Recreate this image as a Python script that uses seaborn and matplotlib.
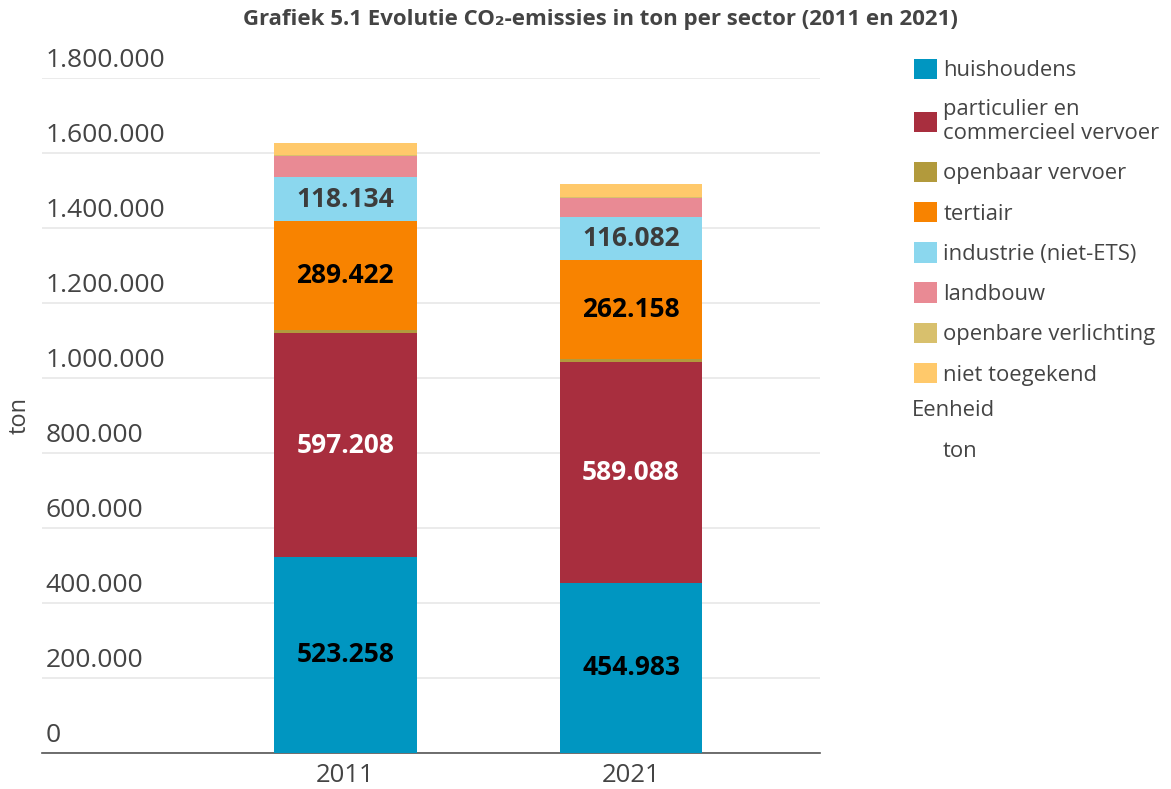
import numpy as np
import pandas as pd
import seaborn as sns
import matplotlib.pyplot as plt
from matplotlib.patches import Patch

# Data (ton CO2 per sector)
jaren = ["2011", "2021"]
sectoren = ["huishoudens", "particulier en\ncommercieel vervoer", "openbaar vervoer",
            "tertiair", "industrie (niet-ETS)", "landbouw", "openbare verlichting",
            "niet toegekend"]
huishoudens = [523258, 454983]
particulier = [597208, 589088]
openbaar_vervoer = [9000, 8000]
tertiair = [289422, 262158]
industrie = [118134, 116082]
landbouw = [56000, 51700]
openbare_verlichting = [3200, 2600]
niet_toegekend = [31000, 32800]
kleuren = ["#0096c1", "#a82e3e", "#b29a3c", "#f88300", "#8bd7ee", "#e98a94",
           "#d8c06d", "#ffc96b"]
label_kleuren = ["black", "white", None, "black", "#3c3c3c", None, None, None]
yticks = [0, 200000, 400000, 600000, 800000, 1000000, 1200000, 1400000, 1600000, 1800000]

reeksen = [huishoudens, particulier, openbaar_vervoer, tertiair, industrie,
           landbouw, openbare_verlichting, niet_toegekend]

sns.set_theme(style="white")
plt.rcParams['font.family'] = ['Open Sans', 'DejaVu Sans']

fig = plt.figure(figsize=(11.71, 7.89), dpi=100)
ax = fig.add_axes([0.036, 0.0456, 0.664, 0.855])

# cumulatieve toppen, grootste eerst tekenen zodat lagere lagen erover komen
waarden = np.array(reeksen, dtype=float)
toppen = np.cumsum(waarden, axis=0)
for i in range(len(sectoren) - 1, -1, -1):
    df = pd.DataFrame({"jaar": jaren, "top": toppen[i]})
    sns.barplot(data=df, x="jaar", y="top", color=kleuren[i], width=0.5,
                saturation=1, ax=ax, zorder=3, linewidth=0)

# labels in de grote segmenten
for i, kleur in enumerate(label_kleuren):
    if kleur is None:
        continue
    for j in range(len(jaren)):
        onder = toppen[i][j] - waarden[i][j]
        midden = onder + waarden[i][j] / 2
        tekst = f"{int(waarden[i][j]):,}".replace(",", ".")
        ax.text(j, midden, tekst, ha="center", va="center", fontsize=19,
                fontweight="bold", color=kleur, zorder=5)

ax.set_xlim(-1.06, 1.66)
ax.set_ylim(0, 1800000)
ax.set_yticks(yticks)
ax.set_yticklabels([])
ax.tick_params(axis="y", length=0)
ax.tick_params(axis="x", length=0, labelsize=18.5, labelcolor="#444444", pad=7)
ax.grid(axis="y", color="#e8e8e8", linewidth=1.2, zorder=0)
for v in yticks:
    ax.text(0.004, v + 14000, f"{v:,}".replace(",", "."),
            transform=ax.get_yaxis_transform(), ha="left", va="bottom",
            fontsize=19, color="#444444", clip_on=False)

for s in ["top", "right", "left"]:
    ax.spines[s].set_visible(False)
ax.spines["bottom"].set_color("#555555")
ax.spines["bottom"].set_linewidth(1.2)
ax.set_xlabel("")
ax.set_ylabel("")
fig.text(20 / 1171, 1 - 415 / 789, "ton", rotation=90, ha="center", va="center",
         fontsize=17, color="#444444")

fig.text(600 / 1171, 1 - 20 / 789, "Grafiek 5.1 Evolutie CO₂-emissies in ton per sector (2011 en 2021)",
         ha="center", va="center", fontsize=16, fontweight="bold", color="#444444")

# legenda
handles = [Patch(facecolor=k, edgecolor="none") for k in kleuren]
leg = fig.legend(handles, sectoren, loc="upper left",
                 bbox_to_anchor=(905 / 1171, 1 - 50 / 789), frameon=False,
                 fontsize=15.8, handlelength=1.05, handleheight=1.05,
                 handletextpad=0.3, labelspacing=0.8, borderaxespad=0)
for t in leg.get_texts():
    t.set_color("#444444")
fig.text(912 / 1171, 1 - 410 / 789, "Eenheid", ha="left", va="center",
         fontsize=15.8, color="#444444")
fig.text(943 / 1171, 1 - 451 / 789, "ton", ha="left", va="center",
         fontsize=15.8, color="#444444")

fig.savefig("out.png", dpi=100)
